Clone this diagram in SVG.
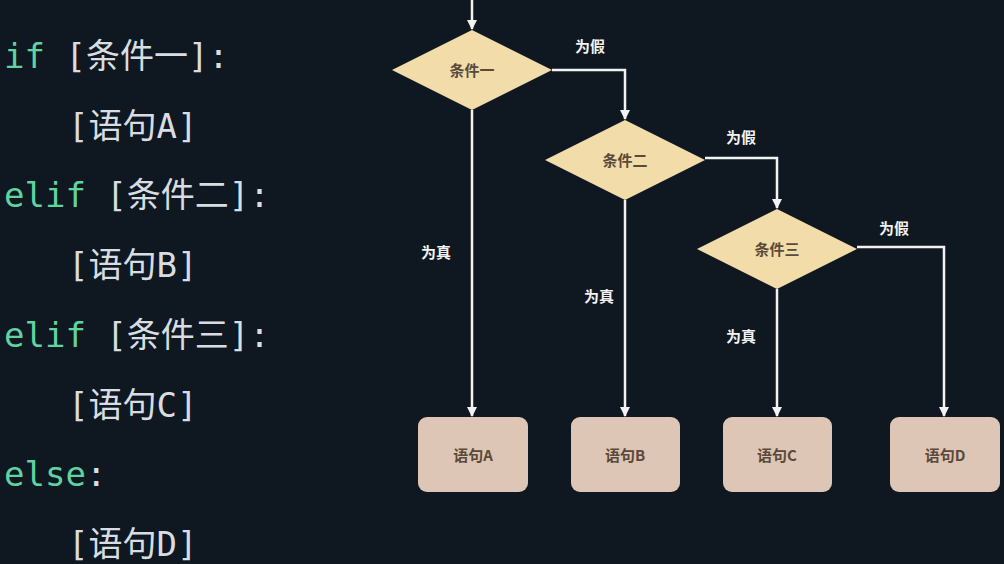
<svg xmlns="http://www.w3.org/2000/svg" width="1004" height="564" viewBox="0 0 1004 564">
<defs>
<marker id="ah" markerWidth="10" markerHeight="10" refX="9" refY="5" orient="auto" markerUnits="userSpaceOnUse">
<path d="M0,0 L10,5 L0,10 Z" fill="#f2f2f2"/>
</marker>
<style>
.code{font-family:"DejaVu Sans Mono","Noto Sans CJK SC",monospace;font-size:34px;fill:#d8dde2}
.kw{fill:#5fd3a0}
.dia{fill:#f2dcaa}
.box{fill:#dec6b6}
.lbl{font-family:"Noto Sans CJK SC",sans-serif;font-size:15px;font-weight:bold;fill:#5a4a3a;text-anchor:middle}
.cl{font-family:"Noto Sans CJK SC",sans-serif;font-size:15px;font-weight:bold;fill:#f2f2f2;text-anchor:middle}
.ln{stroke:#f2f2f2;stroke-width:2.5;fill:none;marker-end:url(#ah)}
</style>
</defs>
<rect width="1004" height="564" fill="#0f1820"/>
<g id="code">
<text class="code" x="4" y="68"><tspan class="kw">if</tspan> [条件一]:</text>
<text class="code" x="68" y="138">[语句A]</text>
<text class="code" x="4" y="207"><tspan class="kw">elif</tspan> [条件二]:</text>
<text class="code" x="68" y="277">[语句B]</text>
<text class="code" x="4" y="347"><tspan class="kw">elif</tspan> [条件三]:</text>
<text class="code" x="68" y="417">[语句C]</text>
<text class="code" x="4" y="486"><tspan class="kw">else</tspan>:</text>
<text class="code" x="68" y="556">[语句D]</text>
</g>
<g id="connectors">
<path class="ln" d="M472,0 V29"/>
<path class="ln" d="M552,70 H625 V119"/>
<path class="ln" d="M705,158 H777 V208"/>
<path class="ln" d="M857,247 H944 V416"/>
<path class="ln" d="M472,110 V416"/>
<path class="ln" d="M625,200 V416"/>
<path class="ln" d="M777,289 V416"/>
<text class="cl" x="590" y="52">为假</text>
<text class="cl" x="741" y="143">为假</text>
<text class="cl" x="894" y="234">为假</text>
<text class="cl" x="436" y="258">为真</text>
<text class="cl" x="599" y="302">为真</text>
<text class="cl" x="741" y="342">为真</text>
</g>
<g id="c1"><polygon class="dia" points="392,70 472,30 552,70 472,110"/><text class="lbl" x="472" y="76">条件一</text></g>
<g id="c2"><polygon class="dia" points="545,160 625,120 705,160 625,200"/><text class="lbl" x="625" y="166">条件二</text></g>
<g id="c3"><polygon class="dia" points="697,249 777,209 857,249 777,289"/><text class="lbl" x="777" y="255">条件三</text></g>
<g id="a"><rect class="box" x="418" y="417" width="110" height="75" rx="9"/><text class="lbl" x="473" y="461">语句A</text></g>
<g id="b"><rect class="box" x="571" y="417" width="109" height="75" rx="9"/><text class="lbl" x="625" y="461">语句B</text></g>
<g id="c"><rect class="box" x="723" y="417" width="109" height="75" rx="9"/><text class="lbl" x="777" y="461">语句C</text></g>
<g id="d"><rect class="box" x="890" y="417" width="110" height="75" rx="9"/><text class="lbl" x="945" y="461">语句D</text></g>
</svg>
